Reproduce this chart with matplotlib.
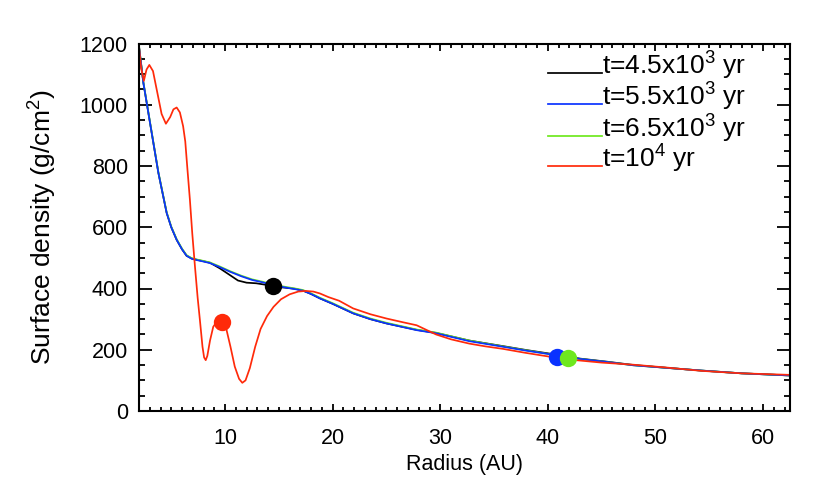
import numpy as np
import matplotlib
matplotlib.use('Agg')
import matplotlib.pyplot as plt
from matplotlib.lines import Line2D
from matplotlib.ticker import MultipleLocator

plt.rcParams['font.family'] = ['Liberation Sans', 'DejaVu Sans']
plt.rcParams['mathtext.fontset'] = 'custom'
plt.rcParams['mathtext.rm'] = 'Liberation Sans'
plt.rcParams['mathtext.it'] = 'Liberation Sans'

# radius (AU) and surface density (g/cm^2)
r_blue = [2.0, 2.4, 3.02, 3.8, 4.57, 5.0, 5.5, 6.0, 6.42, 6.9, 7.35, 8.0, 8.6, 9.5,
          10.44, 11.5, 12.5, 13.5, 14.46, 15.5, 16.5, 17.24, 18.0, 18.8, 20.0, 21.9,
          23.5, 25.0, 27.8, 29.6, 32.7, 35.8, 38.0, 40.8, 43.0, 45.5, 48.0, 51.0,
          54.3, 58.0, 62.5]
s_blue = [1190, 1073, 942, 778, 647, 600, 559, 528, 507, 497, 493, 488, 483, 470,
          455, 440, 428, 420, 411, 404, 398, 393, 382, 368, 350, 319,
          300, 286, 264, 254, 228, 210, 197, 182, 170, 160, 149, 141,
          132, 123, 116]

r_black = [2.0, 2.4, 3.02, 3.8, 4.57, 5.0, 5.5, 6.0, 6.42, 6.9, 7.35, 8.0, 8.6, 9.5,
           10.44, 11.2, 12.0, 12.9, 13.8, 14.46, 15.5, 16.5, 17.24, 18.0, 18.8, 20.0,
           21.9, 23.5, 25.0, 27.8, 29.6, 32.7, 35.8, 38.0, 40.8, 43.0, 45.5, 48.0,
           51.0, 54.3, 58.0, 62.5]
s_black = [1190, 1073, 942, 778, 647, 600, 559, 528, 507, 498, 494, 489, 484, 466,
           444, 426, 419, 417, 412, 406, 403, 399, 393, 382, 368, 350,
           319, 300, 286, 265, 255, 230, 212, 199, 184, 171, 161, 150,
           141, 132, 123, 116]

r_green = r_blue
s_green = [1192, 1075, 944, 780, 649, 602, 561, 530, 509, 499, 495, 490, 485, 472,
           457, 442, 430, 422, 413, 406, 400, 395, 384, 370, 352, 321,
           302, 288, 266, 256, 230, 211, 198, 182, 170, 160, 149, 141,
           132, 123, 116]

r_red = [2.0, 2.2, 2.45, 2.7, 2.96, 3.3, 3.7, 4.1, 4.5, 4.9, 5.2, 5.5, 5.8, 6.1,
         6.3, 6.5, 6.73, 6.95, 7.2, 7.45, 7.66, 7.9, 8.05, 8.2, 8.35, 8.6, 8.9,
         9.3, 9.7, 10.1, 10.5, 10.9, 11.3, 11.6, 11.9, 12.3, 12.8, 13.3, 13.9,
         14.5, 15.2, 16.0, 16.8, 17.5, 18.2, 18.8, 19.6, 20.6, 21.9, 23.5, 25.0,
         26.5, 27.8, 28.7, 29.6, 31.0, 32.7, 34.2, 35.8, 37.9, 40.4, 42.0, 45.0,
         48.0, 51.0, 54.3, 58.0, 62.5]
s_red = [1188, 1120, 1078, 1115, 1130, 1110, 1040, 970, 938, 960, 985, 991, 975, 930,
         880, 790, 690, 580, 472, 370, 297, 210, 175, 166, 180, 230, 275,
         295, 295, 270, 210, 145, 105, 92, 100, 140, 210, 268, 310,
         340, 365, 381, 390, 392, 390, 384, 372, 360, 335, 316, 302,
         290, 280, 265, 250, 234, 220, 211, 203, 190, 176, 168, 158,
         151, 142, 131, 123, 118]

labels = ['t=4.5x10$^3$ yr', 't=5.5x10$^3$ yr', 't=6.5x10$^3$ yr', 't=10$^4$ yr']
colors = ['black', '#0a32ff', '#6ee81e', '#ff2a0a']

# marker positions (radius, density)
dot_r = [14.46, 40.8, 41.9, 9.7]
dot_s = [408, 176, 172, 292]

W, H = 830, 499
fig = plt.figure(figsize=(W/100, H/100), dpi=100)
ax = fig.add_axes([139/W, 1 - 411/H, (790 - 139)/W, (411 - 43.5)/H])

ax.plot(r_black, s_black, color=colors[0], lw=1.25)
ax.plot(r_green, s_green, color=colors[2], lw=1.25, zorder=2)
ax.plot(r_blue, s_blue, color=colors[1], lw=1.25, zorder=2.1)
ax.plot(r_red, s_red, color=colors[3], lw=1.25, zorder=2.2)

for i in range(4):
    ax.plot(dot_r[i], dot_s[i], 'o', color=colors[i], ms=12.5, mec='none', zorder=3)

ax.set_xlim(2, 62.5)
ax.set_ylim(0, 1200)
ax.xaxis.set_major_locator(MultipleLocator(10))
ax.xaxis.set_minor_locator(MultipleLocator(1))
ax.yaxis.set_major_locator(MultipleLocator(200))
ax.yaxis.set_minor_locator(MultipleLocator(50))

ax.tick_params(axis='both', which='both', direction='in', top=True, right=True,
               labelsize=15.5, width=1.3)
ax.tick_params(axis='x', which='major', length=5, pad=12)
ax.tick_params(axis='x', which='minor', length=2.7)
ax.tick_params(axis='y', which='major', length=9.5, pad=8)
ax.tick_params(axis='y', which='minor', length=4.5)
for s in ax.spines.values():
    s.set_linewidth(1.5)

ax.set_xlabel('Radius (AU)', fontsize=15.5, labelpad=4)
ax.set_ylabel('Surface density (g/cm$^2$)', fontsize=19, labelpad=15)

# legend drawn by hand: IDL style, line at the text baseline
row_y = [73.3, 104, 135.7, 165.7]
for i in range(4):
    y = 1 - row_y[i]/H
    fig.add_artist(Line2D([548/W, 602/W], [y, y], color=colors[i], lw=1.25))
    fig.text(602/W, 1 - (row_y[i] + 1.5)/H, labels[i], fontsize=19, va='baseline')

fig.canvas.draw()
yt = ax.yaxis.get_major_ticks()
yt[0].label1.set_verticalalignment('bottom')
yt[-1].label1.set_verticalalignment('top')

fig.savefig('out.png', dpi=100)
